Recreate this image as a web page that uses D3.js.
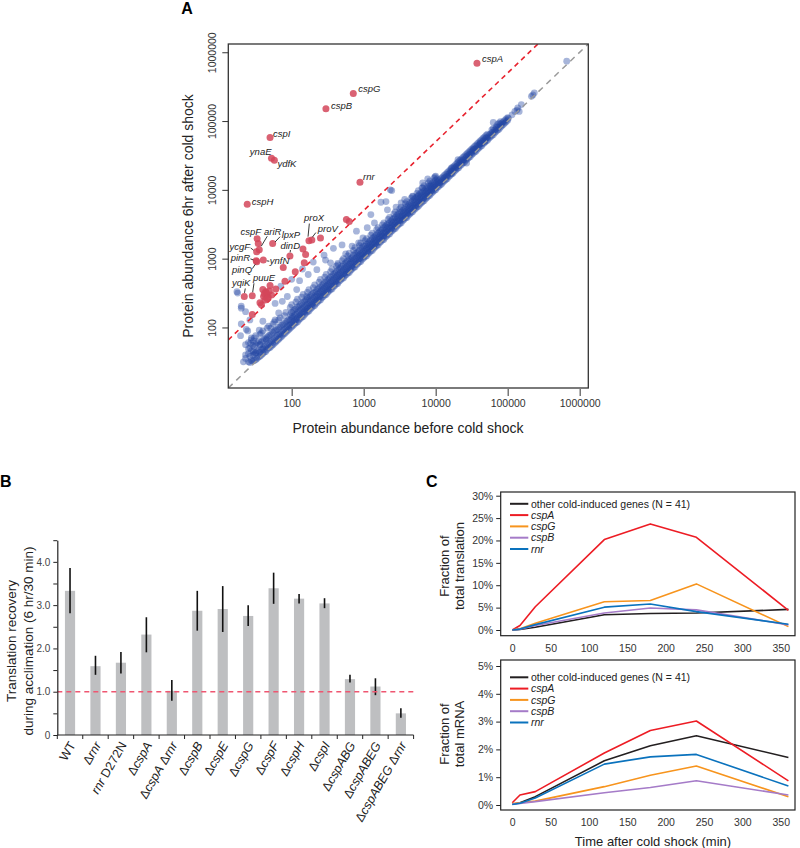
<!DOCTYPE html>
<html><head><meta charset="utf-8">
<script src="https://cdn.jsdelivr.net/npm/d3@7"></script>
<style>body{margin:0;background:#fff}svg{display:block}text{font-family:"Liberation Sans",Arial,Helvetica,sans-serif}</style>
</head><body><svg id="c" width="800" height="848"></svg>
<script>
// ---------------- DATA ----------------
// Panel A: log10 protein abundance (before, [after...]) for the dense band of genes
const bandRows = [
[1.40,[1.50,1.62,1.78]],[1.42,[1.49,1.58,1.70]],[1.44,[1.52,1.66,1.85]],[1.46,[1.51,1.60,1.74]],
[1.48,[1.52,1.61,1.72,1.85]],[1.50,[1.53,1.63,1.75,1.88]],[1.52,[1.55,1.66,1.78]],[1.54,[1.57,1.66,1.80]],
[1.56,[1.58,1.64,1.75,1.90]],[1.58,[1.60,1.68,1.79,1.92]],[1.60,[1.62,1.70,1.81,1.95]],[1.62,[1.64,1.72,1.83]],
[1.64,[1.65,1.73,1.84]],[1.66,[1.68,1.75,1.86,1.99]],[1.68,[1.70,1.77,1.88,2.02]],[1.70,[1.71,1.79,1.89]],
[1.72,[1.73,1.80,1.90]],[1.74,[1.75,1.82,1.93,2.05]],[1.76,[1.77,1.84,1.95,2.08]],[1.78,[1.79,1.86,1.96]],
[1.80,[1.81,1.88,1.97]],[1.82,[1.83,1.90,2.00,2.11]],[1.84,[1.85,1.91,2.01,2.14]],[1.86,[1.87,1.93,2.03]],
[1.88,[1.89,1.95,2.04]],[1.90,[1.91,1.97,2.06,2.17]],[1.92,[1.93,1.99,2.08,2.22]],[1.94,[1.95,2.01,2.09]],
[1.96,[1.97,2.03,2.11]],[1.98,[1.99,2.04,2.11,2.19,2.29]],[2.00,[2.01,2.06,2.13,2.22,2.33]],[2.02,[2.03,2.08,2.15,2.24]],
[2.04,[2.05,2.10,2.17,2.26]],[2.06,[2.07,2.12,2.19,2.27,2.37]],[2.08,[2.08,2.14,2.21,2.30,2.41]],[2.10,[2.11,2.16,2.23,2.31]],
[2.12,[2.13,2.18,2.25,2.33]],[2.14,[2.15,2.20,2.27,2.35,2.44]],[2.16,[2.16,2.22,2.28,2.37,2.48]],[2.18,[2.19,2.24,2.30,2.38]],
[2.20,[2.21,2.26,2.32,2.40]],[2.22,[2.23,2.28,2.34,2.42,2.51]],[2.24,[2.24,2.30,2.36,2.44,2.55]],[2.26,[2.27,2.32,2.38,2.46]],
[2.28,[2.29,2.34,2.40,2.48]],[2.30,[2.31,2.36,2.42,2.50,2.58]],[2.32,[2.32,2.38,2.44,2.51,2.62]],[2.34,[2.35,2.40,2.46,2.53]],
[2.36,[2.37,2.42,2.48,2.56]],[2.38,[2.39,2.44,2.50,2.57,2.66]],[2.40,[2.40,2.46,2.52,2.59,2.70]],[2.42,[2.43,2.48,2.54,2.61]],
[2.44,[2.45,2.50,2.56,2.63]],[2.46,[2.47,2.52,2.58,2.65,2.73]],[2.48,[2.48,2.54,2.60,2.67,2.77]],[2.50,[2.51,2.56,2.62,2.69]],
[2.52,[2.53,2.58,2.64,2.71]],[2.54,[2.55,2.60,2.66,2.73,2.81]],[2.56,[2.56,2.62,2.68,2.75,2.85]],[2.58,[2.59,2.64,2.70,2.77]],
[2.60,[2.61,2.66,2.72,2.79]],[2.62,[2.63,2.68,2.74,2.81,2.89]],[2.64,[2.64,2.70,2.76,2.83,2.93]],[2.66,[2.67,2.72,2.78,2.85]],
[2.68,[2.69,2.74,2.80,2.87]],[2.70,[2.71,2.76,2.82,2.89,2.97]],[2.72,[2.72,2.78,2.84,2.91,3.00]],[2.74,[2.75,2.80,2.86,2.93]],
[2.76,[2.77,2.82,2.88,2.95]],[2.78,[2.79,2.84,2.90,2.97,3.04]],[2.80,[2.80,2.86,2.92,2.99,3.08]],[2.82,[2.83,2.88,2.94,3.00]],
[2.84,[2.85,2.90,2.96,3.02]],[2.86,[2.87,2.92,2.98,3.05,3.12]],[2.88,[2.88,2.94,3.00,3.07,3.16]],[2.90,[2.91,2.96,3.02,3.08]],
[2.92,[2.93,2.98,3.04,3.10]],[2.94,[2.95,3.00,3.05,3.12,3.19]],[2.96,[2.96,3.02,3.07,3.14,3.23]],[2.98,[2.99,3.04,3.09,3.16]],
[3.00,[3.01,3.06,3.11,3.18]],[3.02,[3.03,3.08,3.13,3.19,3.26]],[3.04,[3.04,3.09,3.15,3.21,3.29]],[3.06,[3.07,3.12,3.17,3.23]],
[3.08,[3.09,3.14,3.19,3.25]],[3.10,[3.11,3.16,3.21,3.27,3.34]],[3.12,[3.12,3.17,3.23,3.29,3.37]],[3.14,[3.15,3.20,3.25,3.31]],
[3.16,[3.17,3.22,3.27,3.33]],[3.18,[3.19,3.24,3.29,3.35,3.42]],[3.20,[3.20,3.25,3.31,3.37,3.45]],[3.22,[3.23,3.28,3.33,3.39]],
[3.24,[3.25,3.30,3.35,3.41]],[3.26,[3.27,3.32,3.37,3.43,3.49]],[3.28,[3.28,3.33,3.38,3.45,3.52]],[3.30,[3.31,3.36,3.41,3.47]],
[3.32,[3.33,3.38,3.43,3.49]],[3.34,[3.35,3.40,3.45,3.51,3.57]],[3.36,[3.36,3.41,3.46,3.52,3.60]],[3.38,[3.39,3.44,3.49,3.55]],
[3.40,[3.41,3.46,3.51,3.57]],[3.42,[3.43,3.48,3.53,3.59,3.65]],[3.44,[3.44,3.49,3.54,3.60,3.68]],[3.46,[3.47,3.52,3.57,3.63]],
[3.48,[3.49,3.54,3.59,3.65]],[3.50,[3.51,3.56,3.61,3.67,3.72]],[3.52,[3.52,3.57,3.62,3.68,3.75]],[3.54,[3.55,3.59,3.64,3.70]],
[3.56,[3.57,3.61,3.66,3.72]],[3.58,[3.59,3.63,3.68,3.74,3.80]],[3.60,[3.60,3.65,3.70,3.76,3.83]],[3.62,[3.63,3.67,3.72,3.78]],
[3.64,[3.65,3.69,3.74,3.80]],[3.66,[3.67,3.71,3.76,3.82,3.88]],[3.68,[3.68,3.73,3.78,3.84,3.91]],[3.70,[3.71,3.75,3.80,3.86]],
[3.72,[3.73,3.77,3.82,3.88]],[3.74,[3.75,3.79,3.84,3.90,3.95]],[3.76,[3.76,3.81,3.86,3.92,3.99]],[3.78,[3.79,3.83,3.88,3.94]],
[3.80,[3.81,3.85,3.90,3.96]],[3.82,[3.83,3.87,3.92,3.97,4.03]],[3.84,[3.84,3.89,3.94,3.99,4.06]],[3.86,[3.87,3.91,3.96,4.01]],
[3.88,[3.89,3.93,3.98,4.03]],[3.90,[3.91,3.95,3.99,4.05,4.10]],[3.92,[3.92,3.97,4.01,4.07,4.13]],[3.94,[3.95,3.99,4.03,4.08]],
[3.96,[3.97,4.01,4.05,4.10]],[3.98,[3.99,4.03,4.07,4.12,4.17]],[4.00,[4.00,4.04,4.09,4.14,4.20]],[4.02,[4.03,4.07,4.11,4.16]],
[4.04,[4.05,4.09,4.13]],[4.06,[4.07,4.11,4.15]],[4.08,[4.08,4.12,4.17]],[4.10,[4.11,4.15,4.19]],
[4.12,[4.13,4.17,4.21]],[4.14,[4.15,4.19,4.23]],[4.16,[4.16,4.20,4.25]],[4.18,[4.19,4.23,4.27]],
[4.20,[4.21,4.25,4.29]],[4.22,[4.23,4.27,4.31]],[4.24,[4.24,4.28,4.33]],[4.26,[4.27,4.31,4.35]],
[4.28,[4.29,4.33,4.37]],[4.30,[4.31,4.35,4.39]],[4.32,[4.32,4.36,4.41]],[4.34,[4.35,4.39,4.43]],
[4.36,[4.37,4.41,4.45]],[4.38,[4.39,4.43,4.47]],[4.40,[4.40,4.44,4.49]],[4.42,[4.43,4.47,4.51]],
[4.44,[4.45,4.49,4.53]],[4.46,[4.47,4.51,4.55]],[4.48,[4.48,4.52,4.57]],[4.50,[4.51,4.55,4.59]],
[4.52,[4.53,4.57,4.61]],[4.54,[4.55,4.59,4.63]],[4.56,[4.56,4.60,4.65]],[4.58,[4.59,4.63,4.67]],
[4.60,[4.61,4.65,4.69]],[4.62,[4.63,4.67,4.71]],[4.64,[4.64,4.68,4.73]],[4.66,[4.67,4.71,4.75]],
[4.68,[4.69,4.73,4.77]],[4.70,[4.71,4.75,4.79]],[4.72,[4.72,4.76,4.81]],[4.74,[4.75,4.79]],
[4.76,[4.77,4.81]],[4.78,[4.79,4.83,4.87]],[4.80,[4.80,4.84,4.89]],[4.82,[4.83,4.87]],
[4.84,[4.85,4.89]],[4.86,[4.87,4.91,4.95]],[4.88,[4.88,4.92,4.97]],[4.90,[4.91,4.95]],
[4.92,[4.93,4.97]],[4.94,[4.95,4.99]],[4.96,[4.97,5.01]],[4.98,[4.99,5.03]],[5.00,[5.01,5.05]]
];
// Panel A: scattered (non-induced) genes, log10 (before, after)
const scatterPts = [
[3.39,3.99],[3.31,3.83],[3.57,3.86],[3.82,4.10],[3.89,4.16],[3.81,4.03],[3.68,3.90],[4.22,4.32],[4.31,4.44],[4.52,4.58],
[4.62,4.68],[4.80,4.98],[5.13,5.16],[5.35,5.38],[5.82,5.87],[5.33,5.36],[5.37,5.41],[5.10,5.14],[5.14,5.19],[5.19,5.24],
[5.06,5.09],[5.01,5.04],[3.37,4.00],[3.24,3.82],[3.33,3.71],[3.10,3.64],[2.99,3.30],[2.93,3.23],[2.84,3.18],[2.75,3.07],
[2.58,3.15],[2.54,2.94],[2.47,2.98],[2.64,2.91],[2.35,2.84],[2.23,2.77],[2.11,2.68],[2.07,2.55],[2.21,2.45],[1.94,2.45],
[1.87,2.38],[1.77,2.35],[1.25,2.50],[1.30,2.31],[1.36,2.23],[1.30,2.05],[1.37,1.97],[1.29,1.88],[1.44,1.82],[1.36,1.75],
[1.40,1.69],[1.36,1.60],[1.47,1.65],[1.60,1.68],[1.56,1.75],[1.65,1.82],[1.71,1.99],[1.77,2.11],[1.82,2.21],[2.00,2.16],
[3.99,4.19],[3.93,4.05],[3.52,3.81],[3.75,3.90],[4.22,4.24],[4.43,4.39],[4.68,4.70],[4.84,4.92],[4.90,4.99],[5.16,5.14],
[3.05,3.45],[3.15,3.52],[3.45,3.75],[2.90,3.40],[2.70,3.20],[2.45,3.05],[2.30,2.95],[2.15,2.85],[2.00,2.70],[1.85,2.60],
[1.36,1.55],[1.43,1.77],[1.50,1.63],[1.30,2.28],[1.24,2.52],[1.39,1.95],[1.55,1.96],[1.60,2.09],[1.47,1.80],[1.42,2.11],[1.33,1.50]
];
// Panel A: cold-induced genes (red), log10 (before, after) and names
const redGenes = ["cspA","cspG","cspB","cspI","ynaE","ydfK","rnr","cspH","cspF","ariR","ycgF","lpxP","pinR","pinQ","ynfN","dinD","proX","proV","yqiK","puuE",
"","","","","","","","","","","","","","","","","","","","","","","","","",""];
const redBefore = [4.574,2.856,2.476,1.70,1.72,1.76,2.949,1.383,1.52,1.55,1.514,1.736,1.508,1.515,1.606,1.976,2.24,2.28,1.342,1.453,
1.536,1.883,2.157,2.194,2.175,2.40,2.76,2.80,2.05,1.907,1.78,1.70,1.60,1.64,1.66,1.61,1.675,1.56,1.58,1.63,1.72,1.65,1.69,1.62,1.66,1.453];
const redAfter = [5.84,5.40,5.18,4.76,4.46,4.43,4.11,3.79,3.29,3.13,3.10,3.22,2.97,2.955,2.98,3.04,3.26,3.27,2.45,2.46,
3.22,2.87,3.14,3.06,2.94,3.30,3.57,3.54,2.81,2.67,2.56,2.61,2.55,2.52,2.47,2.45,2.44,2.36,2.33,2.40,2.47,2.50,2.53,2.49,2.42,2.19];
const axisTicksA = [100, 1000, 10000, 100000, 1000000];

// Panel B
const strains = ["WT","Δrnr","rnr D272N","ΔcspA","ΔcspA Δrnr","ΔcspB","ΔcspE","ΔcspG","ΔcspF","ΔcspH","ΔcspI","ΔcspABG","ΔcspABEG","ΔcspABEG Δrnr"];
const recovery = [3.33,1.59,1.67,2.32,1.02,2.87,2.91,2.75,3.39,3.15,3.04,1.29,1.12,0.50];
const recoveryLo = [2.81,1.39,1.42,1.91,0.79,2.41,2.38,2.52,3.03,3.04,2.93,1.21,0.92,0.40];
const recoveryHi = [3.86,1.83,1.92,2.72,1.27,3.33,3.44,3.00,3.75,3.26,3.16,1.39,1.31,0.62];
const ticksB = [0,0.5,1,1.5,2,2.5,3,3.5,4,4.5];

// Panel C
const timePoints = [0,10,30,120,180,240,360];
const seriesNames = ["other cold-induced genes (N = 41)","cspA","cspG","cspB","rnr"];
const translationOther = [0,0.1,0.6,3.4,3.7,3.8,4.6];
const translationCspA  = [0,1.0,5.2,20.2,23.7,20.7,4.4];
const translationCspG  = [0,0.3,1.5,6.3,6.6,10.3,0.75];
const translationCspB  = [0,0.2,1.0,3.8,4.9,4.5,1.15];
const translationRnr   = [0,0.2,1.2,5.1,5.8,4.1,1.3];
const mrnaOther = [0.03,0.08,0.30,1.59,2.13,2.49,1.71];
const mrnaCspA  = [0.08,0.36,0.48,1.87,2.68,3.02,0.87];
const mrnaCspG  = [0.05,0.08,0.14,0.66,1.07,1.40,0.30];
const mrnaCspB  = [0.03,0.06,0.12,0.44,0.63,0.87,0.36];
const mrnaRnr   = [0.02,0.06,0.25,1.47,1.73,1.82,0.68];
const ticksTime = [0,50,100,150,200,250,300,350];
const ticksTransl = [0,5,10,15,20,25,30];
const ticksMrna = [0,1,2,3,4,5];

// ---------------- DRAW ----------------
const svg = d3.select("#c");
const P = v => Math.pow(10, v);
const TXT = "#222";

// ===== Panel A =====
const A = {l:228.3, r:588.3, t:44, b:388};
const xA = d3.scaleLog().domain([P(1.12), P(6.12)]).range([A.l, A.r]);
const yA = d3.scaleLog().domain([P(1.12), P(6.12)]).range([A.b, A.t]);
svg.append("defs").append("clipPath").attr("id","clipA").append("rect")
  .attr("x",A.l).attr("y",A.t).attr("width",A.r-A.l).attr("height",A.b-A.t);
const gA = svg.append("g");
const pts = gA.append("g").attr("clip-path","url(#clipA)");
const bluePts = bandRows.flatMap(([x, ys]) => ys.map(y => [x, y])).concat(scatterPts);
pts.selectAll("circle.b").data(bluePts).join("circle").attr("class","b")
  .attr("cx", d => xA(P(d[0]))).attr("cy", d => yA(P(d[1]))).attr("r",3.4)
  .attr("fill","#2447a2").attr("fill-opacity",0.4);
const dom = xA.domain();
pts.append("line").attr("x1",xA(dom[0])).attr("y1",yA(dom[0])).attr("x2",xA(dom[1])).attr("y2",yA(dom[1]))
  .attr("stroke","#9a9a9a").attr("stroke-width",1.5).attr("stroke-dasharray","6,5");
pts.append("line").attr("x1",xA(dom[0])).attr("y1",yA(dom[0]*5)).attr("x2",xA(dom[1]/5)).attr("y2",yA(dom[1]))
  .attr("stroke","#e8232f").attr("stroke-width",1.6).attr("stroke-dasharray","5,4");
const redData = redGenes.map((g,i) => ({g, x:redBefore[i], y:redAfter[i]}));
pts.selectAll("circle.r").data(redData).join("circle").attr("class","r")
  .attr("cx", d => xA(P(d.x))).attr("cy", d => yA(P(d.y))).attr("r",3.5)
  .attr("fill","#d4475a").attr("fill-opacity",0.85);
// label placement relative to each labelled dot (pixels): [dx, dy, anchor, leader]
const labelPos = {
  cspA:[5,-1,"start"], cspG:[5,-1.5,"start"], cspB:[5,0.5,"start"], cspI:[3,-1,"start"],
  ynaE:[0,-3,"end"], ydfK:[3,6.5,"start"], rnr:[3,-2.5,"start"], cspH:[4.5,1,"start"],
  cspF:[4,-3.7,"end"], ariR:[4.7,-15.2,"start",[2,-3.5,8,-13.5]], ycgF:[-6.5,-1.6,"end",[-6,-3.8,-3,-1.5]],
  lpxP:[9,-5.5,"start",[7.4,-6.8,2.4,-1.5]], pinR:[-6,0.4,"end",[-5.8,-1.8,-2.8,-0.8]],
  pinQ:[-4.7,10.9,"end",[-4.3,6.8,-1.5,2.6]], ynfN:[6.5,3.7,"start",[3.5,0.8,6,1.2]],
  dinD:[0.3,-7,"middle",[0.5,-5.9,0.2,-3.5]], proX:[-5,-19.8,"start",[0.4,-17.2,-0.9,-4.1]],
  proV:[6,-8,"start",[4,-7.5,0.5,-2.8]], yqiK:[-12.3,-10.5,"start",[1,-8,0.2,-3.6]],
  puuE:[0.7,-14.8,"start",[1.7,-12.5,0.4,-3.6]]
};
const lab = gA.append("g");
redData.filter(d => d.g).forEach(d => {
  const cx = xA(P(d.x)), cy = yA(P(d.y)), p = labelPos[d.g];
  lab.append("text").attr("x",cx+p[0]).attr("y",cy+p[1]).attr("text-anchor",p[2])
    .attr("font-size",9.5).attr("font-style","italic").attr("fill",TXT).text(d.g);
  if (p[3]) lab.append("line").attr("x1",cx+p[3][0]).attr("y1",cy+p[3][1]).attr("x2",cx+p[3][2]).attr("y2",cy+p[3][3])
    .attr("stroke","#222").attr("stroke-width",0.9);
});
gA.append("rect").attr("x",A.l).attr("y",A.t).attr("width",A.r-A.l).attr("height",A.b-A.t)
  .attr("fill","none").attr("stroke","#333").attr("stroke-width",1.3);
const axXA = gA.append("g").attr("transform",`translate(0,${A.b+1})`)
  .call(d3.axisBottom(xA).tickValues(axisTicksA).tickFormat(d3.format("d")).tickSize(7).tickSizeOuter(0).tickPadding(4));
axXA.select(".domain").remove();
axXA.selectAll("text").attr("font-size",10.5).attr("fill","#333").attr("font-family",null);
axXA.selectAll("line").attr("stroke","#333");
const axYA = gA.append("g").attr("transform",`translate(${A.l},0)`)
  .call(d3.axisLeft(yA).tickValues(axisTicksA).tickFormat(d3.format("d")).tickSize(6).tickSizeOuter(0));
axYA.select(".domain").remove();
axYA.selectAll("line").attr("stroke","#333");
axYA.selectAll("text").attr("transform","rotate(-90)").attr("x",0).attr("y",-12).attr("dy",0)
  .attr("text-anchor","middle").attr("font-size",10.5).attr("fill","#333").attr("font-family",null);
gA.append("text").attr("x",408).attr("y",433).attr("text-anchor","middle").attr("font-size",14).attr("fill",TXT)
  .text("Protein abundance before cold shock");
gA.append("text").attr("transform","translate(193,216) rotate(-90)").attr("text-anchor","middle").attr("font-size",14).attr("fill",TXT)
  .text("Protein abundance 6hr after cold shock");
svg.append("text").attr("x",187).attr("y",14).attr("text-anchor","middle").attr("font-size",16).attr("font-weight","bold").text("A");

// ===== Panel B =====
const B = {l:57.3, r:413.6, t:540.2, b:735};
const xB = d3.scaleBand().domain(strains).range([B.l, B.r]).paddingInner(0.6).paddingOuter(0.3);
const yB = d3.scaleLinear().domain([0,4.5]).range([B.b, B.t]);
const gB = svg.append("g");
gB.selectAll("rect.bar").data(strains).join("rect").attr("class","bar")
  .attr("x", d => xB(d)).attr("width", xB.bandwidth())
  .attr("y", (d,i) => yB(recovery[i])).attr("height", (d,i) => yB(0) - yB(recovery[i]))
  .attr("fill","#bebfc1");
gB.selectAll("line.err").data(strains).join("line").attr("class","err")
  .attr("x1", d => xB(d)+xB.bandwidth()/2).attr("x2", d => xB(d)+xB.bandwidth()/2)
  .attr("y1", (d,i) => yB(recoveryLo[i])).attr("y2", (d,i) => yB(recoveryHi[i]))
  .attr("stroke","#111").attr("stroke-width",1.6);
gB.append("line").attr("x1",B.l).attr("x2",B.r).attr("y1",yB(1)).attr("y2",yB(1))
  .attr("stroke","#ef5671").attr("stroke-width",1.6).attr("stroke-dasharray","5,4");
const axYB = gB.append("g").attr("transform",`translate(${B.l},0)`)
  .call(d3.axisLeft(yB).tickValues(ticksB).tickSize(4).tickSizeOuter(0).tickPadding(3)
    .tickFormat(d => d % 1 === 0 ? (d === 0 ? "0" : d3.format(".1f")(d)) : ""));
axYB.select(".domain").attr("stroke","#222").attr("stroke-width",1.2);
axYB.selectAll("line").attr("stroke","#222");
axYB.selectAll("text").attr("font-size",10).attr("fill","#444").attr("font-family",null);
// x axis with ticks at category boundaries
const step = xB.step();
const x0B = xB(strains[0]) - step*0.3;
gB.append("line").attr("x1",B.l).attr("x2",B.r).attr("y1",B.b).attr("y2",B.b).attr("stroke","#222").attr("stroke-width",1.2);
gB.selectAll("line.bt").data(d3.range(strains.length+1)).join("line").attr("class","bt")
  .attr("x1", i => x0B + i*step).attr("x2", i => x0B + i*step).attr("y1",B.b).attr("y2",B.b+4)
  .attr("stroke","#222").attr("stroke-width",1);
const normalTok = new Set(["Δ"," ","WT","D272N"]);
strains.forEach(s => {
  const t = gB.append("text").attr("transform",`translate(${xB(s)+xB.bandwidth()/2+6},745) rotate(-60)`)
    .attr("text-anchor","end").attr("font-size",12.5).attr("fill",TXT);
  s.split(/(Δ| |WT|D272N)/).filter(x => x).forEach(tok => {
    t.append("tspan").attr("font-style", normalTok.has(tok) ? "normal" : "italic").text(tok);
  });
});
gB.append("text").attr("transform","translate(16,641) rotate(-90)").attr("text-anchor","middle").attr("font-size",13.5).attr("fill",TXT)
  .text("Translation recovery");
gB.append("text").attr("transform","translate(32.5,641) rotate(-90)").attr("text-anchor","middle").attr("font-size",13.5).attr("fill",TXT)
  .text("during acclimation (6 hr/30 min)");
svg.append("text").attr("x",0).attr("y",487).attr("font-size",16).attr("font-weight","bold").text("B");

// ===== Panel C =====
const colors = ["#231f20","#ed1c24","#f7941d","#a57bc8","#0a72bd"];
const xC = d3.scaleLinear().domain([-15.1, 368.6]).range([500.7, 795]);
function panelC(top, bottom, yDom, yRange, ticks, series, legendY, title2, cy) {
  const y = d3.scaleLinear().domain(yDom).range(yRange);
  const g = svg.append("g");
  const line = d3.line().x((d,i) => xC(timePoints[i])).y(d => y(d));
  series.forEach((s,k) => {
    g.append("path").datum(s).attr("d",line).attr("fill","none").attr("stroke",colors[k]).attr("stroke-width",1.6)
      .attr("stroke-linejoin","round");
  });
  g.append("rect").attr("x",500.7).attr("y",top).attr("width",795-500.7).attr("height",bottom-top)
    .attr("fill","none").attr("stroke","#222").attr("stroke-width",1.2);
  const ay = g.append("g").attr("transform","translate(500.7,0)")
    .call(d3.axisLeft(y).tickValues(ticks).tickSize(4.5).tickSizeOuter(0).tickPadding(3).tickFormat(d => d + "%"));
  ay.select(".domain").remove();
  ay.selectAll("line").attr("stroke","#222");
  ay.selectAll("text").attr("font-size",10.5).attr("fill","#333").attr("font-family",null);
  const ax = g.append("g").attr("transform",`translate(0,${bottom})`)
    .call(d3.axisBottom(xC).tickValues(ticksTime).tickSize(0).tickPadding(9));
  ax.select(".domain").remove();
  ax.selectAll("text").attr("font-size",10.5).attr("fill","#333").attr("font-family",null);
  seriesNames.forEach((n,k) => {
    const yy = legendY + k*11.3;
    g.append("line").attr("x1",510).attr("x2",528.3).attr("y1",yy).attr("y2",yy).attr("stroke",colors[k]).attr("stroke-width",2);
    g.append("text").attr("x",531).attr("y",yy+3.7).attr("font-size",10.5).attr("fill",TXT)
      .attr("font-style", k === 0 ? "normal" : "italic").text(n);
  });
  g.append("text").attr("transform",`translate(449,${cy}) rotate(-90)`).attr("text-anchor","middle").attr("font-size",13).attr("fill",TXT).text("Fraction of");
  g.append("text").attr("transform",`translate(464,${cy}) rotate(-90)`).attr("text-anchor","middle").attr("font-size",13).attr("fill",TXT).text(title2);
}
panelC(492, 635.7, [0,30], [630,495.7], ticksTransl,
  [translationOther, translationCspA, translationCspG, translationCspB, translationRnr], 503.8, "total translation", 566);
panelC(660, 810, [0,5], [805,666], ticksMrna,
  [mrnaOther, mrnaCspA, mrnaCspG, mrnaCspB, mrnaRnr], 677.3, "total mRNA", 734);
svg.append("text").attr("x",653).attr("y",846).attr("text-anchor","middle").attr("font-size",13).attr("fill",TXT).text("Time after cold shock (min)");
svg.append("text").attr("x",426).attr("y",487).attr("font-size",16).attr("font-weight","bold").text("C");
</script></body></html>
